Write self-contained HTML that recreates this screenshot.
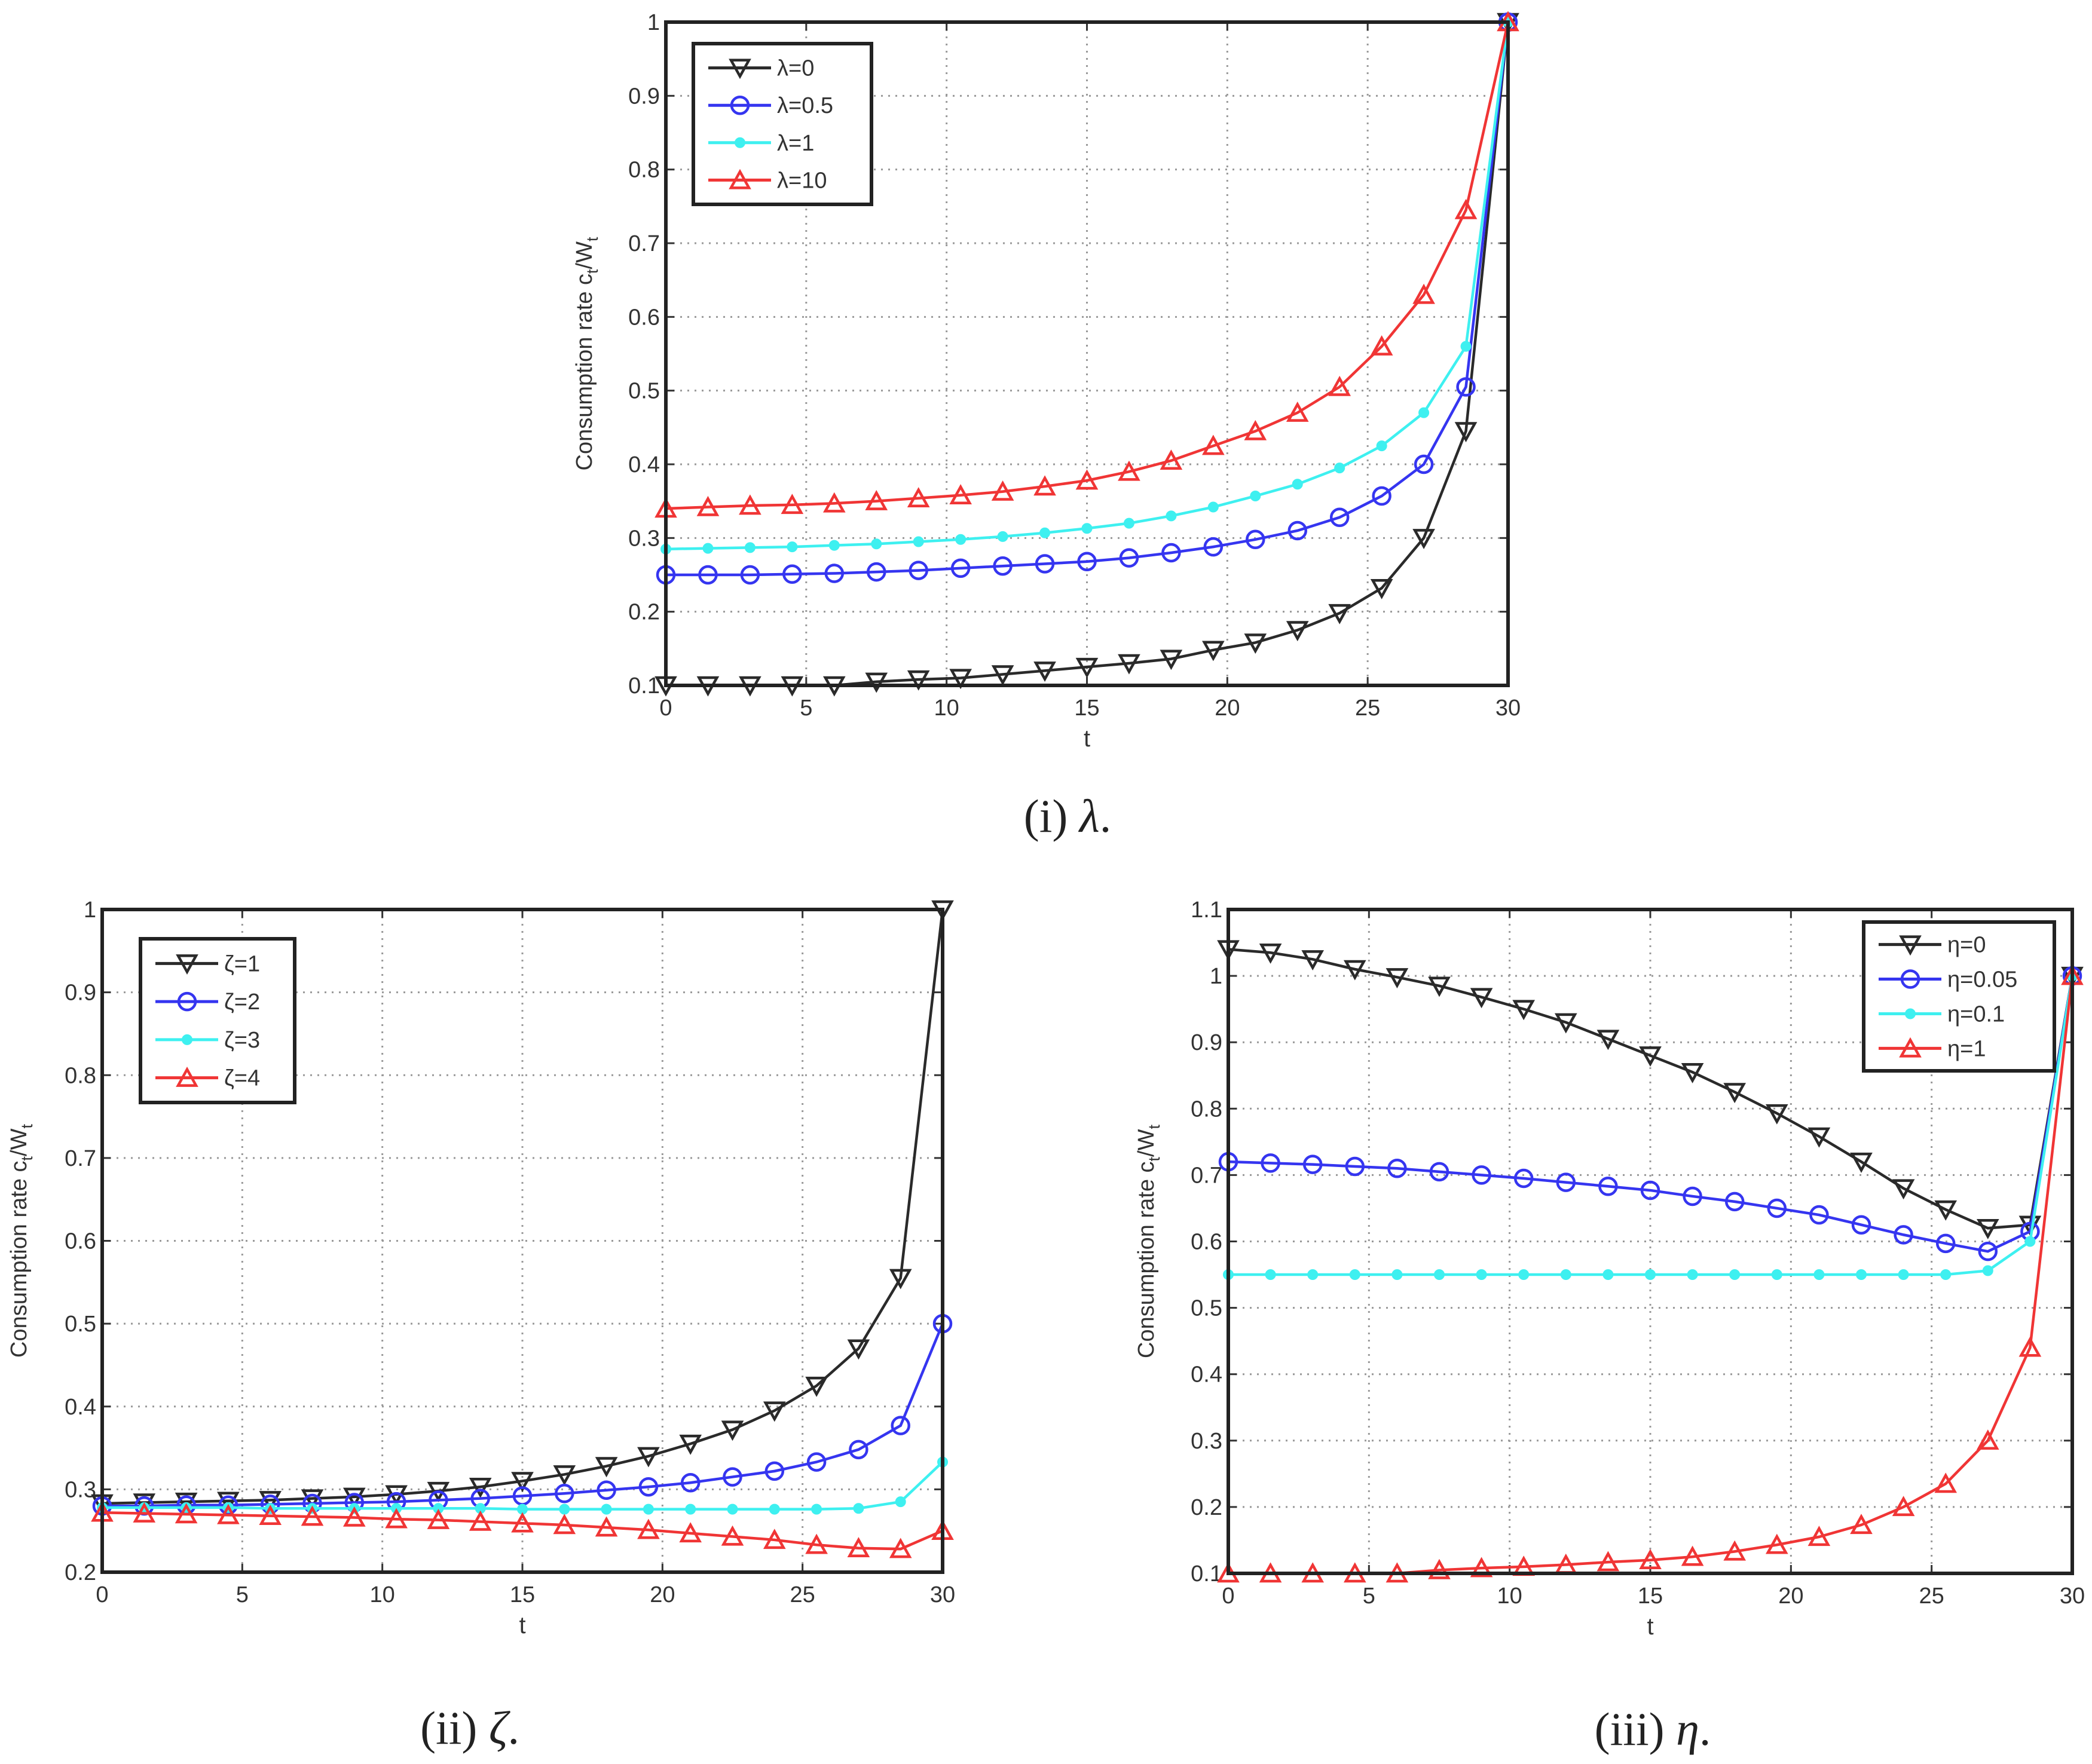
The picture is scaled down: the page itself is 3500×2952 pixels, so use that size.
<!DOCTYPE html>
<html><head><meta charset="utf-8"><style>
html,body{margin:0;padding:0;background:#fff;}
svg{display:block;}
</style></head><body>
<svg id="fig" xmlns="http://www.w3.org/2000/svg" width="3500" height="2952" viewBox="0 0 3500 2952" font-family="Liberation Sans, DejaVu Sans, sans-serif">
<rect width="3500" height="2952" fill="#fff"/>
<text x="1786" y="1392" font-family="Liberation Serif, serif" font-size="78" text-anchor="middle" fill="#222">(i) <tspan font-style="italic">λ</tspan>.</text>
<text x="786" y="2918" font-family="Liberation Serif, serif" font-size="78" text-anchor="middle" fill="#222">(ii) <tspan font-style="italic">ζ</tspan>.</text>
<text x="2765" y="2920" font-family="Liberation Serif, serif" font-size="78" text-anchor="middle" fill="#222">(iii) <tspan font-style="italic">η</tspan>.</text>
</svg>
<script>
const tValues = [0,1.5,3,4.5,6,7.5,9,10.5,12,13.5,15,16.5,18,19.5,21,22.5,24,25.5,27,28.5,30];
const xTicks = [0,5,10,15,20,25,30];

const lamLabels = ["λ=0","λ=0.5","λ=1","λ=10"];
const lam0 = [0.10,0.10,0.10,0.10,0.10,0.105,0.108,0.11,0.115,0.12,0.125,0.13,0.136,0.148,0.158,0.175,0.198,0.232,0.30,0.445,1.0];
const lam05 = [0.25,0.25,0.25,0.251,0.252,0.254,0.256,0.259,0.262,0.265,0.268,0.273,0.28,0.288,0.298,0.31,0.328,0.357,0.40,0.505,1.0];
const lam1 = [0.285,0.286,0.287,0.288,0.29,0.292,0.295,0.298,0.302,0.307,0.313,0.32,0.33,0.342,0.357,0.373,0.395,0.425,0.47,0.56,1.0];
const lam10 = [0.34,0.342,0.344,0.345,0.347,0.35,0.354,0.358,0.363,0.37,0.378,0.39,0.405,0.425,0.445,0.47,0.505,0.56,0.63,0.745,1.0];
const lamYTicks = [0.1,0.2,0.3,0.4,0.5,0.6,0.7,0.8,0.9,1];

const zetaLabels = ["ζ=1","ζ=2","ζ=3","ζ=4"];
const zeta1 = [0.283,0.284,0.285,0.286,0.287,0.289,0.291,0.294,0.298,0.303,0.31,0.318,0.328,0.34,0.355,0.372,0.395,0.425,0.47,0.555,1.0];
const zeta2 = [0.28,0.28,0.281,0.281,0.282,0.283,0.284,0.285,0.287,0.289,0.292,0.295,0.299,0.303,0.308,0.315,0.322,0.333,0.348,0.377,0.5];
const zeta3 = [0.278,0.278,0.278,0.278,0.277,0.277,0.277,0.277,0.277,0.277,0.276,0.276,0.276,0.276,0.276,0.276,0.276,0.276,0.277,0.285,0.333];
const zeta4 = [0.272,0.271,0.27,0.269,0.268,0.267,0.266,0.264,0.263,0.261,0.259,0.257,0.254,0.251,0.247,0.243,0.239,0.233,0.229,0.228,0.25];
const zetaYTicks = [0.2,0.3,0.4,0.5,0.6,0.7,0.8,0.9,1];

const etaLabels = ["η=0","η=0.05","η=0.1","η=1"];
const eta0 = [1.04,1.035,1.025,1.01,0.998,0.985,0.968,0.95,0.93,0.905,0.88,0.855,0.825,0.793,0.758,0.72,0.68,0.648,0.62,0.625,1.0];
const eta005 = [0.72,0.718,0.716,0.713,0.71,0.705,0.7,0.695,0.689,0.683,0.677,0.668,0.66,0.65,0.64,0.625,0.61,0.597,0.585,0.615,1.0];
const eta01 = [0.55,0.55,0.55,0.55,0.55,0.55,0.55,0.55,0.55,0.55,0.55,0.55,0.55,0.55,0.55,0.55,0.55,0.55,0.556,0.6,1.0];
const eta1 = [0.10,0.10,0.10,0.10,0.10,0.105,0.108,0.11,0.113,0.117,0.12,0.125,0.133,0.143,0.155,0.173,0.20,0.235,0.30,0.44,1.0];
const etaYTicks = [0.1,0.2,0.3,0.4,0.5,0.6,0.7,0.8,0.9,1,1.1];

const NS = "http://www.w3.org/2000/svg";
const svg = document.getElementById('fig');
const colors = ["#2a2a2a","#3535f0","#3ef0f0","#f03535"];
const markers = ["down","circle","star","up"];

function mk(tag, attrs, parent){
  const e = document.createElementNS(NS, tag);
  for (const k in attrs) e.setAttribute(k, attrs[k]);
  parent.appendChild(e);
  return e;
}

function drawMarker(g, type, cx, cy, color, name){
  let e;
  if (type === "down") {
    e = mk('polygon', {points:`${cx-15},${cy-13} ${cx+15},${cy-13} ${cx},${cy+14}`, fill:"none", stroke:color, 'stroke-width':4.5}, g);
  } else if (type === "up") {
    e = mk('polygon', {points:`${cx-15},${cy+13} ${cx+15},${cy+13} ${cx},${cy-14}`, fill:"none", stroke:color, 'stroke-width':4.5}, g);
  } else if (type === "circle") {
    e = mk('circle', {cx:cx, cy:cy, r:14, fill:"none", stroke:color, 'stroke-width':4.5}, g);
  } else {
    e = mk('circle', {cx:cx, cy:cy, r:8, fill:color, stroke:color, 'stroke-width':2}, g);
  }
  
  
}

function chart(cfg){
  const g = mk('g', {}, svg);
  
  
  const {L,R,T,B,ymin,ymax} = cfg;
  const xs = v => L + (v - 0) / 30 * (R - L);
  const ys = v => B - (v - ymin) / (ymax - ymin) * (B - T);
  xTicks.forEach(v => {
    if (v > 0 && v < 30) {
      const l = mk('line', {x1:xs(v), x2:xs(v), y1:T, y2:B, stroke:"#999", 'stroke-width':3, 'stroke-dasharray':"3 9"}, g);
      
      
    }
    const tk = mk('text', {x:xs(v), y:B+50, 'font-size':38, 'text-anchor':"middle", fill:"#333"}, g);
    tk.textContent = v;
    
    
    mk('line', {x1:xs(v), x2:xs(v), y1:B, y2:B-14, stroke:"#333", 'stroke-width':3}, g);
    mk('line', {x1:xs(v), x2:xs(v), y1:T, y2:T+14, stroke:"#333", 'stroke-width':3}, g);
  });
  cfg.yTicks.forEach(v => {
    const y = ys(v);
    if (v > ymin + 1e-9 && v < ymax - 1e-9) {
      const l = mk('line', {x1:L, x2:R, y1:y, y2:y, stroke:"#999", 'stroke-width':3, 'stroke-dasharray':"3 9"}, g);
      
      
    }
    const tk = mk('text', {x:L-10, y:y+13, 'font-size':38, 'text-anchor':"end", fill:"#333"}, g);
    tk.textContent = String(v);
    
    
    mk('line', {x1:L, x2:L+14, y1:y, y2:y, stroke:"#333", 'stroke-width':3}, g);
    mk('line', {x1:R, x2:R-14, y1:y, y2:y, stroke:"#333", 'stroke-width':3}, g);
  });
  const xl = mk('text', {x:(L+R)/2, y:B+102, 'font-size':40, 'text-anchor':"middle", fill:"#333"}, g);
  xl.textContent = "t";
  
  
  const yl = mk('text', {transform:`translate(${cfg.ylx},${(T+B)/2}) rotate(-90)`, 'font-size':38, 'text-anchor':"middle", fill:"#333"}, g);
  
  
  yl.innerHTML = 'Consumption rate c<tspan font-size="27" dy="10">t</tspan><tspan dy="-10">/W</tspan><tspan font-size="27" dy="10">t</tspan>';
  cfg.series.forEach((s, i) => {
    const sg = mk('g', {}, g);
    
    
    const pts = s.map((v, j) => xs(tValues[j]) + ',' + ys(v)).join(' ');
    const pl = mk('polyline', {points:pts, fill:"none", stroke:colors[i], 'stroke-width':4.5}, sg);
    
    
    s.forEach((v, j) => drawMarker(sg, markers[i], xs(tValues[j]), ys(v), colors[i], 'data-point'));
  });
  const box = mk('rect', {x:L, y:T, width:R-L, height:B-T, fill:"none", stroke:"#222", 'stroke-width':6}, g);
  
  
  const lg = mk('g', {}, g);
  
  
  const [lx, ly, lw, lh] = cfg.legend;
  mk('rect', {x:lx, y:ly, width:lw, height:lh, fill:"#fff", stroke:"#222", 'stroke-width':6}, lg);
  const step = lh / 4.3;
  cfg.labels.forEach((lab, i) => {
    const cy = ly + step * (i + 0.65);
    const e = mk('g', {}, lg);
    
    
    mk('line', {x1:lx+25, x2:lx+130, y1:cy, y2:cy, stroke:colors[i], 'stroke-width':5}, e);
    drawMarker(e, markers[i], lx+78, cy, colors[i], 'legend-marker');
    const t = mk('text', {x:lx+140, y:cy+13, 'font-size':38, fill:"#333"}, e);
    t.textContent = lab;
  });
}

chart({name:'chart-lambda', key:'lambda', L:1114, R:2523, T:37, B:1147, ymin:0.1, ymax:1, yTicks:lamYTicks, ylx:990,
  series:[lam0, lam05, lam1, lam10], labels:lamLabels, legend:[1160,73,298,269]});
chart({name:'chart-zeta', key:'zeta', L:171, R:1577, T:1522, B:2631, ymin:0.2, ymax:1, yTicks:zetaYTicks, ylx:44,
  series:[zeta1, zeta2, zeta3, zeta4], labels:zetaLabels, legend:[235,1571,258,274]});
chart({name:'chart-eta', key:'eta', L:2055, R:3467, T:1522, B:2633, ymin:0.1, ymax:1.1, yTicks:etaYTicks, ylx:1930,
  series:[eta0, eta005, eta01, eta1], labels:etaLabels, legend:[3118,1543,319,249]});
</script>
</body></html>
